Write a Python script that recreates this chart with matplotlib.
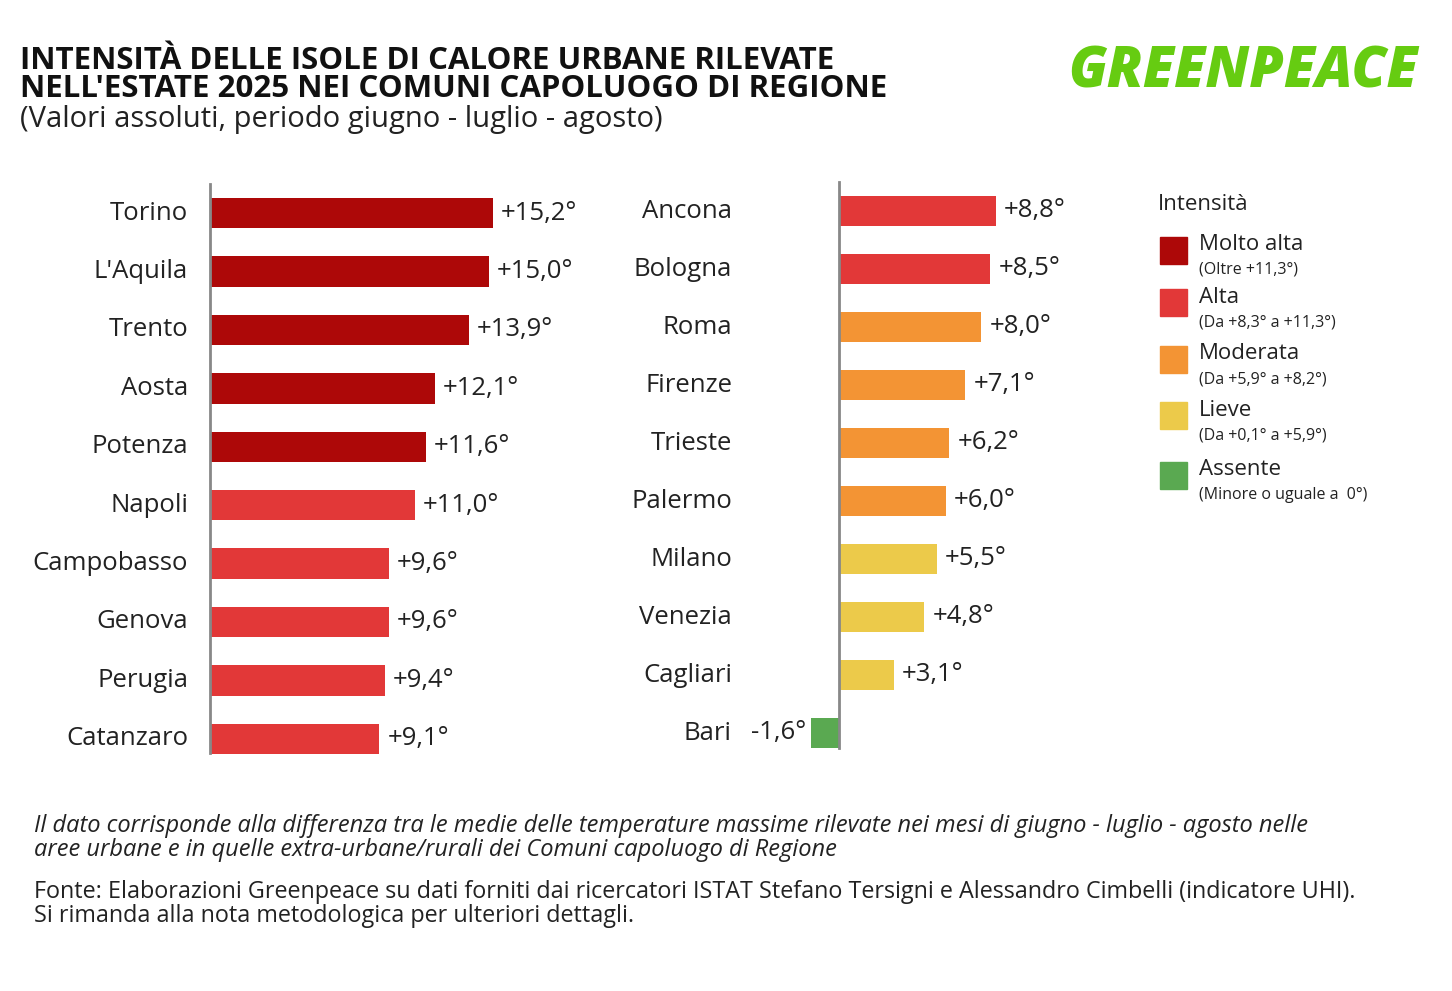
import matplotlib
matplotlib.use("Agg")
import matplotlib.pyplot as plt
from matplotlib.patches import Rectangle

plt.rcParams['font.family'] = ['Open Sans', 'DejaVu Sans']

left_cities = ["Torino","L'Aquila","Trento","Aosta","Potenza","Napoli","Campobasso","Genova","Perugia","Catanzaro"]
left_vals = [15.2,15.0,13.9,12.1,11.6,11.0,9.6,9.6,9.4,9.1]
right_cities = ["Ancona","Bologna","Roma","Firenze","Trieste","Palermo","Milano","Venezia","Cagliari","Bari"]
right_vals = [8.8,8.5,8.0,7.1,6.2,6.0,5.5,4.8,3.1,-1.6]
legend_names = ["Molto alta","Alta","Moderata","Lieve","Assente"]
legend_sub = ["(Oltre +11,3°)","(Da +8,3° a +11,3°)","(Da +5,9° a +8,2°)","(Da +0,1° a +5,9°)","(Minore o uguale a  0°)"]
colors = ["#ad0808","#e23838","#f39434","#ecca4a","#5aa951"]

def color_for(v):
    if v > 11.3: return colors[0]
    if v >= 8.3: return colors[1]
    if v >= 5.9: return colors[2]
    if v > 0: return colors[3]
    return colors[4]

W, H = 1452, 991
fig = plt.figure(figsize=(W/100, H/100), dpi=100)

def px_axes(x0, x1, ytop, ybot):
    return fig.add_axes([x0/W, 1-ybot/H, (x1-x0)/W, (ybot-ytop)/H])

def fmt(v):
    return ("+" if v > 0 else "") + f"{v:.1f}".replace(".", ",") + "°"

def draw(ax, cities, vals, pxu, x0px, x1px, lab_off):
    n = len(cities)
    ys = list(range(n))
    ax.barh(ys, vals, height=0.52, color=[color_for(v) for v in vals])
    ax.set_ylim(n-0.5, -0.5)
    ax.set_xlim(-(x0px)/pxu, (x1px)/pxu)
    for s in ["top","right","bottom"]:
        ax.spines[s].set_visible(False)
    ax.spines["left"].set_position(("data", 0))
    ax.spines["left"].set_color("#888888")
    ax.spines["left"].set_linewidth(2)
    ax.spines["left"].set_bounds(n-0.75, -0.5)
    ax.set_xticks([]); ax.set_yticks([])
    ax.patch.set_alpha(0)
    for y, c, v in zip(ys, cities, vals):
        ax.text(-lab_off/pxu, y, c, ha="right", va="center", fontsize=18.5, color="#222")
        if v >= 0:
            ax.text(v + 8/pxu, y, fmt(v), ha="left", va="center", fontsize=18.5, color="#222")
        else:
            ax.text(v - 4/pxu, y, fmt(v), ha="right", va="center", fontsize=18.5, color="#222")

axL = px_axes(0, 620, 184, 768)
draw(axL, left_cities, left_vals, 18.6, 210, 410, 22)
axR = px_axes(600, 1150, 182, 762)
draw(axR, right_cities, right_vals, 17.8, 239, 311, 107)

fig.text(20/W, 1-75/H, "INTENSITÀ DELLE ISOLE DI CALORE URBANE RILEVATE\nNELL'ESTATE 2025 NEI COMUNI CAPOLUOGO DI REGIONE",
         fontsize=22.5, fontweight="bold", va="center", ha="left", color="#111", linespacing=0.95)
fig.text(20/W, 1-120/H, "(Valori assoluti, periodo giugno - luglio - agosto)", fontsize=21, va="center", color="#222")
fig.text(1068/W, 1-73/H, "GREENPEACE", fontsize=40, fontweight="heavy", style="italic", color="#66cc11", va="center")

fig.text(1158/W, 1-204/H, "Intensità", fontsize=16, va="center", color="#222")
ys = [250, 302, 359, 415, 475]
for y, c, n, s in zip(ys, colors, legend_names, legend_sub):
    fig.patches.append(Rectangle(((1160)/W, 1-(y+14)/H), 27/W, 27/H, transform=fig.transFigure, color=c))
    fig.text(1199/W, 1-(y-5)/H, n, fontsize=16, va="center", color="#222")
    fig.text(1199/W, 1-(y+20)/H, s, fontsize=11.5, va="center", color="#222")

fig.text(34/W, 1-838/H, "Il dato corrisponde alla differenza tra le medie delle temperature massime rilevate nei mesi di giugno - luglio - agosto nelle\naree urbane e in quelle extra-urbane/rurali dei Comuni capoluogo di Regione",
         fontsize=17, style="italic", va="center", color="#222", linespacing=0.95)
fig.text(34/W, 1-904/H, "Fonte: Elaborazioni Greenpeace su dati forniti dai ricercatori ISTAT Stefano Tersigni e Alessandro Cimbelli (indicatore UHI).\nSi rimanda alla nota metodologica per ulteriori dettagli.",
         fontsize=16.8, va="center", color="#222", linespacing=0.95)

fig.savefig("out.png", dpi=100, facecolor="white")
